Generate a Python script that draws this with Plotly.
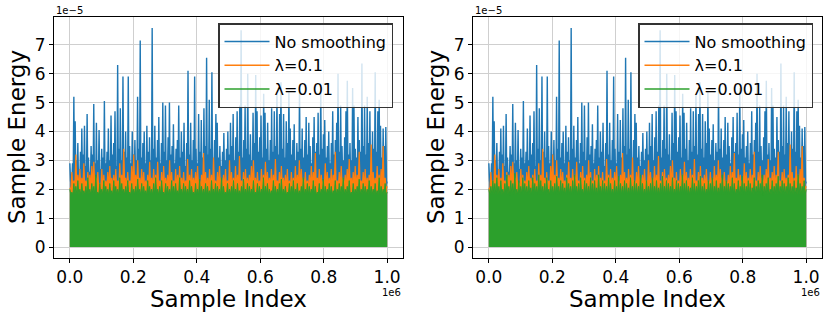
import plotly.graph_objects as go

# values in units of 1e-5 (energy) ; x in units of 1e6 (sample index)
blue_peaks = [
    2.9, 2.1, 2.9, 5.2, 4.35, 3.0, 3.6, 2.7, 3.3, 4.1,
    3.2, 4.2, 2.8, 4.6, 3.1, 2.6, 3.5, 3.2, 4.95, 2.9,
    4.3, 3.0, 4.05, 2.7, 3.4, 3.1, 5.05, 2.9, 3.3, 4.1,
    3.0, 4.55, 3.2, 3.6, 4.7, 2.8, 6.3, 3.4, 4.8, 3.0,
    5.9, 3.3, 4.0, 3.1, 5.9, 3.5, 2.9, 4.0, 3.2, 3.7,
    3.0, 5.2, 3.4, 7.15, 3.1, 3.6, 4.0, 2.9, 4.2, 3.3,
    3.8, 3.0, 7.58, 3.4, 4.2, 3.1, 3.7, 4.5, 2.9, 3.6,
    5.0, 3.3, 4.9, 3.0, 3.8, 5.0, 3.2, 3.5, 4.25, 2.9,
    3.4, 3.7, 4.9, 3.1, 4.0, 3.3, 4.3, 2.8, 3.6, 6.1,
    3.2, 4.3, 3.0, 3.7, 5.9, 3.4, 2.9, 4.6, 3.3, 4.4,
    3.1, 4.8, 3.5, 6.55, 3.2, 5.1, 3.4, 6.05, 3.0, 3.7,
    4.6, 4.3, 3.1, 3.5, 2.8, 3.3, 3.95, 3.0, 3.4, 4.0,
    3.2, 4.3, 3.5, 4.6, 3.0, 3.8, 4.7, 3.3, 4.9, 7.5,
    3.1, 3.7, 4.9, 3.4, 6.0, 3.2, 3.9, 3.0, 4.65, 3.6,
    5.95, 4.7, 3.3, 3.8, 4.55, 3.1, 5.3, 4.65, 3.4, 4.3,
    3.0, 3.7, 4.8, 3.3, 4.7, 3.5, 5.3, 3.2, 4.6, 5.7,
    3.4, 4.6, 3.1, 4.35, 3.6, 5.4, 4.1, 3.2, 3.7, 4.25,
    3.0, 3.6, 3.3, 5.5, 3.4, 4.1, 3.1, 3.7, 4.5, 3.2,
    4.3, 3.5, 2.9, 3.8, 4.5, 3.3, 3.6, 4.65, 3.2, 5.5,
    3.4, 3.9, 4.4, 3.1, 3.5, 4.0, 2.9, 3.6, 4.7, 3.2,
    3.7, 4.3, 6.0, 3.3, 4.9, 3.5, 3.0, 3.8, 4.7, 5.75,
    3.2, 3.6, 3.0, 5.5, 4.9, 3.4, 3.1, 4.5, 3.7, 3.3,
    6.35, 3.5, 4.9, 3.2, 5.2, 3.6, 4.7, 3.0, 4.0, 3.4,
    6.05, 3.3, 4.7, 5.1, 4.2, 3.1, 4.1, 3.5, 4.15, 2.2,
]
blue_floor = 2.3

orange_peaks = [
    2.05, 2.6, 2.3, 3.2, 2.5, 2.7, 2.4, 2.9, 2.3, 2.6,
    2.5, 2.8, 2.95, 2.4, 2.6, 2.2, 2.7, 2.5, 2.3, 2.6,
    2.8, 2.4, 2.5, 2.7, 2.3, 2.9, 2.5, 3.4, 2.4, 2.6,
    2.3, 2.8, 3.2, 2.5, 3.0, 2.4, 2.7, 2.6, 2.3, 2.5,
    2.95, 2.4, 2.7, 2.5, 2.95, 2.3, 2.6, 2.8, 2.4, 2.5,
    3.0, 2.6, 2.3, 2.7, 2.5, 2.8, 2.4, 2.6, 2.3, 3.05,
    2.5, 2.7, 2.4, 2.6, 2.8, 2.3, 2.5, 3.25, 2.6, 2.4,
    2.7, 2.5, 3.1, 2.3, 2.6, 2.8, 2.4, 2.5, 2.7, 2.3,
    3.0, 2.6, 2.4, 2.8, 2.5, 3.15, 2.3, 2.6, 2.7, 2.4,
    2.5, 2.8, 3.0, 2.4, 2.6, 2.3, 2.7, 2.5, 2.95, 2.6,
    2.4, 2.7, 2.5, 3.05, 2.3, 2.6, 2.8, 2.4, 2.5, 2.7,
    2.3, 2.6, 2.4, 2.8, 2.5, 3.0, 2.7, 2.4, 2.6, 2.3,
    2.5, 2.8, 2.6, 3.25, 2.4, 2.7, 2.5, 2.3, 2.9, 2.6,
    2.4, 2.7, 2.5, 3.3, 2.3, 2.6, 2.8, 2.4, 2.5, 2.7,
    3.05, 2.4, 2.6, 2.8, 2.5, 3.3, 2.3, 2.6, 2.7, 2.4,
    2.5, 3.55, 2.6, 2.4, 2.8, 2.5, 2.7, 3.5, 2.4, 2.1,
]
orange_floor = 2.0

green_peaks_left = [
    2.0, 1.9, 2.2, 2.1, 2.3, 2.0, 2.2, 1.95, 2.1, 2.4,
    2.0, 2.2, 2.1, 2.5, 1.9, 2.2, 2.0, 2.3, 2.1, 2.0,
    2.2, 1.95, 2.3, 2.1, 2.0, 2.4, 2.2, 2.0, 2.1, 2.3,
    1.9, 2.2, 2.0, 2.1, 2.35, 2.0, 2.2, 2.1, 1.95, 2.3,
    2.1, 2.0, 2.2, 2.4, 2.0, 2.1, 2.3, 1.9, 2.2, 2.1,
    2.0, 2.3, 2.1, 2.2, 1.95, 2.4, 2.0, 2.2, 2.1, 2.0,
    2.3, 2.1, 1.9, 2.2, 2.0, 2.35, 2.1, 2.0, 2.2, 2.1,
    1.95, 2.3, 2.0, 2.2, 2.1, 2.0, 2.4, 2.1, 1.9, 2.2,
    2.0, 2.1, 2.3, 2.0, 2.2, 1.95, 2.1, 2.35, 2.0, 2.2,
    2.1, 2.0, 2.3, 1.9, 2.2, 2.1, 2.0, 2.4, 2.1, 2.2,
    2.0, 1.95, 2.3, 2.1, 2.0, 2.2, 2.35, 2.0, 2.1, 1.9,
    2.2, 2.1, 2.3, 2.0, 2.2, 1.95, 2.1, 2.4, 2.0, 2.2,
    2.1, 2.0, 2.3, 2.1, 1.9, 2.2, 2.0, 2.35, 2.1, 2.0,
    2.2, 2.1, 1.95, 2.3, 2.0, 2.2, 2.1, 2.4, 2.0, 2.1,
    2.3, 1.9, 2.2, 2.0, 2.1, 2.35, 2.0, 2.2, 2.1, 2.0,
    2.3, 2.1, 2.0, 2.2, 1.95, 2.4, 2.1, 2.0, 2.2, 1.9,
]
green_peaks_right = [
    2.0, 2.1, 2.3, 2.2, 2.4, 2.1, 2.3, 2.0, 2.2, 2.5,
    2.1, 2.3, 2.2, 2.55, 2.0, 2.3, 2.1, 2.4, 2.2, 2.1,
    2.3, 2.05, 2.4, 2.2, 2.1, 2.5, 2.3, 2.1, 2.2, 2.4,
    2.0, 2.3, 2.1, 2.2, 2.45, 2.1, 2.3, 2.2, 2.05, 2.4,
    2.2, 2.1, 2.3, 2.5, 2.1, 2.2, 2.4, 2.0, 2.3, 2.2,
    2.1, 2.4, 2.2, 2.3, 2.05, 2.5, 2.1, 2.3, 2.2, 2.1,
    2.4, 2.2, 2.0, 2.3, 2.1, 2.45, 2.2, 2.1, 2.3, 2.2,
    2.05, 2.4, 2.1, 2.3, 2.2, 2.1, 2.5, 2.2, 2.0, 2.3,
    2.1, 2.2, 2.4, 2.1, 2.3, 2.05, 2.2, 2.45, 2.1, 2.3,
    2.2, 2.1, 2.4, 2.0, 2.3, 2.2, 2.1, 2.5, 2.2, 2.3,
    2.1, 2.05, 2.4, 2.2, 2.1, 2.3, 2.45, 2.1, 2.2, 2.0,
    2.3, 2.2, 2.4, 2.1, 2.3, 2.05, 2.2, 2.5, 2.1, 2.3,
    2.2, 2.1, 2.4, 2.2, 2.0, 2.3, 2.1, 2.45, 2.2, 2.1,
    2.3, 2.2, 2.05, 2.4, 2.1, 2.3, 2.2, 2.5, 2.1, 2.2,
    2.4, 2.0, 2.3, 2.1, 2.2, 2.45, 2.1, 2.3, 2.2, 2.1,
    2.4, 2.2, 2.1, 2.3, 2.05, 2.5, 2.2, 2.1, 2.3, 2.0,
]
green_floor = 1.8

legend_left = ["No smoothing", "λ=0.1", "λ=0.01"]
legend_right = ["No smoothing", "λ=0.1", "λ=0.001"]
y_ticks = [0, 1, 2, 3, 4, 5, 6, 7]
x_ticks = [0.0, 0.2, 0.4, 0.6, 0.8, 1.0]
x_tick_text = ["0.0", "0.2", "0.4", "0.6", "0.8", "1.0"]

BLUE, ORANGE, GREEN = "#1f77b4", "#ff7f0e", "#2ca02c"
FONT = "DejaVu Sans"


def zigzag(peaks, floor):
    n = len(peaks)
    xs, ys = [], []
    for i, p in enumerate(peaks):
        x = i / (n - 1)
        xs.append(x)
        ys.append(p)
        if i < n - 1:
            xs.append((i + 0.5) / (n - 1))
            ys.append(floor)
    return xs, ys


fig = go.Figure()

panels = [
    ("x", "y", "legend", legend_left, green_peaks_left),
    ("x2", "y2", "legend2", legend_right, green_peaks_right),
]
for xa, ya, lg, names, gpk in panels:
    for peaks, floor, color, name, lw in [
        (blue_peaks, blue_floor, BLUE, names[0], 1.4),
        (orange_peaks, orange_floor, ORANGE, names[1], 1.2),
        (gpk, green_floor, GREEN, names[2], 1.0),
    ]:
        xs, ys = zigzag(peaks, floor)
        fig.add_trace(go.Scatter(
            x=xs, y=ys, mode="lines", name=name, xaxis=xa, yaxis=ya,
            showlegend=False, line=dict(color=color, width=lw, simplify=False),
            fill="tozeroy", fillcolor=color,
        ))
    # legend entries (thin line samples)
    for color, name in [(BLUE, names[0]), (ORANGE, names[1]), (GREEN, names[2])]:
        fig.add_trace(go.Scatter(
            x=[None], y=[None], mode="lines", name=name, xaxis=xa, yaxis=ya,
            legend=lg, line=dict(color=color, width=1.5),
        ))

axis_common = dict(
    showline=True, linecolor="black", linewidth=1, mirror=True,
    showgrid=True, gridcolor="#cfcfcf", gridwidth=1, zeroline=False,
    ticks="outside", ticklen=4, tickcolor="black",
    tickfont=dict(family=FONT, size=17, color="black"),
)

legend_common = dict(
    yanchor="top", xanchor="left", y=1 - 23 / 319, itemwidth=45,
    bgcolor="rgba(255,255,255,0.8)", bordercolor="#333333", borderwidth=1.5,
    font=dict(family=FONT, size=16, color="black"), tracegroupgap=0,
)

y_dom = [61 / 319, 302 / 319]
fig.update_layout(
    width=830, height=319, margin=dict(l=0, r=0, t=0, b=0),
    paper_bgcolor="white", plot_bgcolor="white",
    font=dict(family=FONT, color="black"),
    xaxis=dict(domain=[54 / 830, 403 / 830], range=[-0.05, 1.05],
               tickvals=x_ticks, ticktext=x_tick_text, anchor="y", **axis_common),
    yaxis=dict(domain=y_dom, range=[-0.379, 7.96], tickvals=y_ticks,
               anchor="x", **axis_common),
    xaxis2=dict(domain=[473 / 830, 822 / 830], range=[-0.05, 1.05],
                tickvals=x_ticks, ticktext=x_tick_text, anchor="y2", **axis_common),
    yaxis2=dict(domain=y_dom, range=[-0.379, 7.96], tickvals=y_ticks,
                anchor="x2", **axis_common),
    legend=dict(x=218 / 830, **legend_common),
    legend2=dict(x=638 / 830, **legend_common),
)

annots = []
for x0, x1 in [(54, 403), (473, 822)]:
    cx = (x0 + x1) / 2
    annots.append(dict(text="Sample Index", x=cx / 830, y=1 - 299 / 319,
                       xref="paper", yref="paper", showarrow=False,
                       font=dict(family=FONT, size=23, color="black"),
                       xanchor="center", yanchor="middle"))
    annots.append(dict(text="Sample Energy", x=(x0 - 37) / 830, y=1 - 137 / 319,
                       xref="paper", yref="paper", showarrow=False, textangle=-90,
                       font=dict(family=FONT, size=23, color="black"),
                       xanchor="center", yanchor="middle"))
    annots.append(dict(text="1e\u22125", x=x0 / 830, y=1 - 11 / 319,
                       xref="paper", yref="paper", showarrow=False,
                       font=dict(family=FONT, size=10, color="black"),
                       xanchor="left", yanchor="middle"))
    annots.append(dict(text="1e6", x=x1 / 830, y=1 - 292 / 319,
                       xref="paper", yref="paper", showarrow=False,
                       font=dict(family=FONT, size=10, color="black"),
                       xanchor="right", yanchor="middle"))
fig.update_layout(annotations=annots)

fig.write_html("out.html", config={"displayModeBar": False},
               post_script="document.body.style.margin='0px';document.body.style.padding='0px';")
